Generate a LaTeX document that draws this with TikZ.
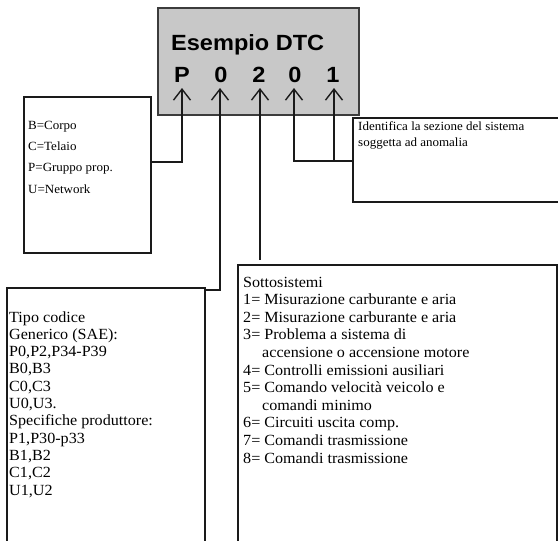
\documentclass[tikz,border=0pt]{standalone}
\usepackage{fontspec}
\setmainfont{Liberation Serif}[FakeStretch=1.04]
\newfontfamily\dtcsans{Liberation Sans}[FakeStretch=1.07]
\usetikzlibrary{arrows.meta}
\definecolor{panelgray}{HTML}{C8C8C8}
\definecolor{ink}{HTML}{1A1A1A}
\tikzset{
  box/.style={draw=ink, line width=1.4pt, fill=white, inner sep=0pt, outer sep=0pt, anchor=north west},
  codebox/.style={draw=ink!85, line width=1.8pt, fill=panelgray, inner sep=0pt, outer sep=0pt, anchor=north west},
  code/.style={font=\dtcsans\bfseries\fontsize{22}{24}\selectfont, inner sep=0pt, anchor=base},
  title/.style={font=\dtcsans\bfseries\fontsize{22}{24}\selectfont, inner sep=0pt, anchor=base west},
  lead/.style={draw=ink, line width=1.4pt},
  pointer/.style={lead, {Straight Barb[length=11pt,width=17pt,line width=1.4pt]}-},
  % multi-line texts are placed by the baseline of their last line
  smalltext/.style={font=\fontsize{12.5}{16}\selectfont, align=left, inner sep=0pt, anchor=base west},
  bigtext/.style={font=\fontsize{15.5}{17.5}\selectfont, align=left, inner sep=0pt, anchor=base west},
}
\begin{document}
\begin{tikzpicture}[x=1pt,y=-1pt]
  \clip (0,0) rectangle (558,541);
  \fill[white] (0,0) rectangle (558,541);

  % code panel
  \node[codebox, minimum width=201pt, minimum height=107pt] (panel) at (158,8) {};
  \node[title] (heading) at (171,50) {Esempio DTC};
  \node[code] (chP) at (182,82) {P};
  \node[code] (chA) at (221,82) {0};
  \node[code] (chB) at (259,82) {2};
  \node[code] (chC) at (295,82) {0};
  \node[code] (chD) at (333,82) {1};

  % arrow tips under each character
  \coordinate (tP) at (182,88);
  \coordinate (tA) at (220,88);
  \coordinate (tB) at (260,88);
  \coordinate (tC) at (294,88);
  \coordinate (tD) at (334,88);

  % description boxes
  \node[box, minimum width=127pt, minimum height=156pt] (system) at (24,97) {};
  \node[box, minimum width=215pt, minimum height=84pt] (section) at (353,118) {};
  \node[box, minimum width=198pt, minimum height=270pt] (codetype) at (7,288) {};
  \node[box, minimum width=319pt, minimum height=290pt] (subsys) at (238,265) {};

  % texts
  \node[smalltext, font=\fontsize{12.5}{21.3}\selectfont] (systemtext) at (28,193)
    {B=Corpo\\C=Telaio\\P=Gruppo prop.\\U=Network};
  \node[smalltext] (sectiontext) at (358,146)
    {Identifica la sezione del sistema\\soggetta ad anomalia};
  \node[bigtext, font=\fontsize{15.5}{17.3}\selectfont] (codetypetext) at (9,495)
    {Tipo codice\\Generico (SAE):\\P0,P2,P34-P39\\B0,B3\\C0,C3\\U0,U3.\\Specifiche produttore:\\P1,P30-p33\\B1,B2\\C1,C2\\U1,U2};
  \node[bigtext, font=\fontsize{15.5}{17.6}\selectfont] (subsystext) at (243,463)
    {Sottosistemi\\1= Misurazione carburante e aria\\2= Misurazione carburante e aria\\3= Problema a sistema di\\\hspace*{19pt}accensione o accensione motore\\4= Controlli emissioni ausiliari\\5= Comando velocità veicolo e\\\hspace*{19pt}comandi minimo\\6= Circuiti uscita comp.\\7= Comandi trasmissione\\8= Comandi trasmissione};

  % connectors
  \coordinate (kP) at (182,162);
  \draw[pointer] (tP) -- (kP) -- (kP -| system.east);
  \coordinate (kA) at (220,290);
  \draw[pointer] (tA) -- (kA) -- (kA -| codetype.east);
  \coordinate (kB) at (260,260);
  \draw[pointer] (tB) -- (kB);
  \coordinate (kC) at (294,161);
  \draw[pointer] (tC) -- (kC) -- (kC -| section.west);
  \coordinate (kD) at (334,161);
  \draw[pointer] (tD) -- (kD);
\end{tikzpicture}
\end{document}
